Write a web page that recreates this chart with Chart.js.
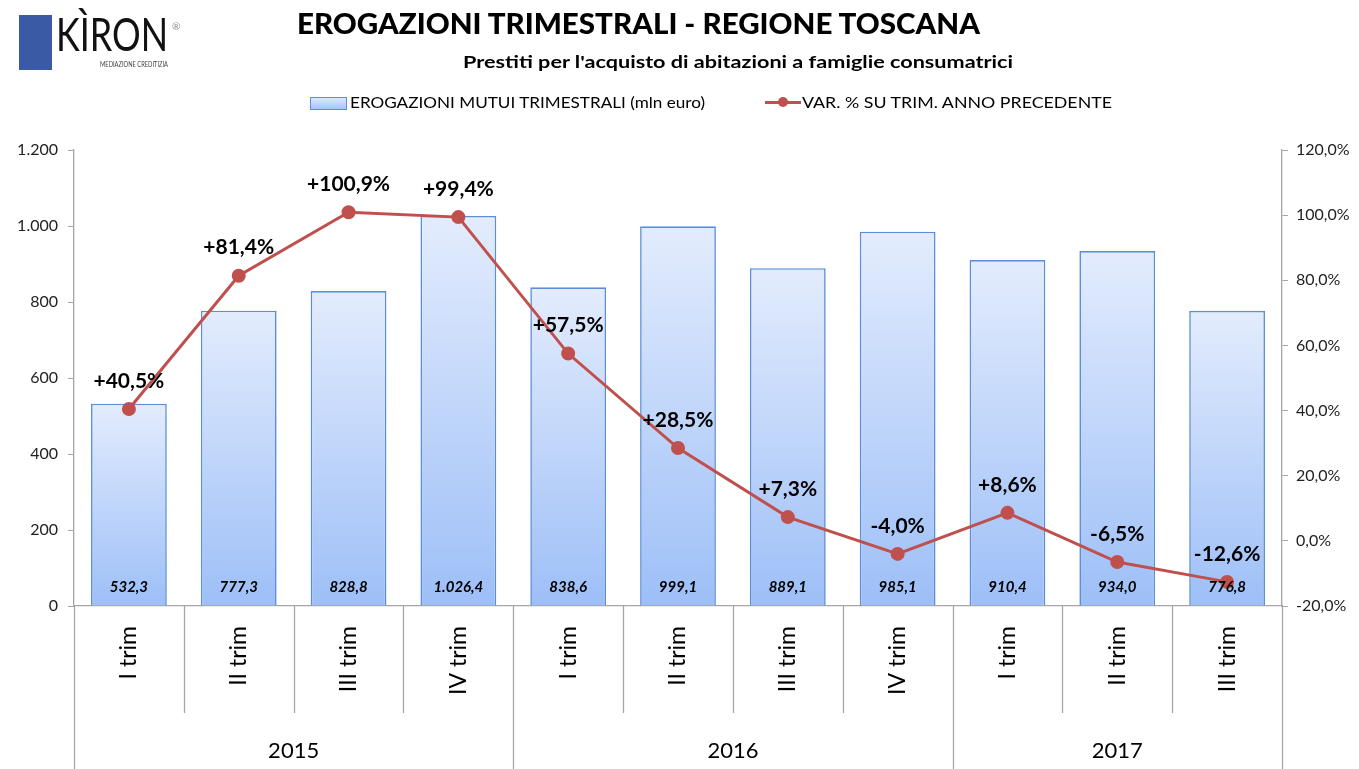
<!DOCTYPE html>
<html>
<head>
<meta charset="utf-8">
<script src="https://cdn.jsdelivr.net/npm/chart.js@4.4.1/dist/chart.umd.min.js"></script>
<style>
body{margin:0;background:#fff;font-family:Lato,"Open Sans",sans-serif;}
#wrap{position:relative;width:1359px;height:769px;overflow:hidden;}
#c{position:absolute;left:0;top:0;}
.fit{position:absolute;white-space:nowrap;transform-origin:0 50%;color:#000;}
#logo-box{position:absolute;left:19px;top:15px;width:33px;height:55px;background:#3a5aa6;}
#logo-reg{position:absolute;left:172px;top:20px;font-size:10px;color:#888;}
.sw{position:absolute;}
</style>
</head>
<body>
<div id="wrap">
<canvas id="c" width="1359" height="769"></canvas>
<div id="logo-box"></div>
<div class="fit" data-w="112" style="left:56px;top:6px;font-size:46px;color:#111;">KÌRON</div>
<div id="logo-reg">®</div>
<div class="fit" data-w="68" style="left:100px;top:60px;font-size:7px;color:#444;">MEDIAZIONE CREDITIZIA</div>
<div class="fit" id="title" data-w="683" style="left:297px;top:6px;font-size:28px;font-weight:900;">EROGAZIONI TRIMESTRALI - REGIONE TOSCANA</div>
<div class="fit" id="sub" data-w="550" style="left:463px;top:51px;font-size:17px;font-weight:bold;">Prestiti per l'acquisto di abitazioni a famiglie consumatrici</div>
<div class="sw" style="left:310px;top:97px;width:35px;height:11px;background:linear-gradient(#dde8fc,#a6c4f8);border:1px solid #5b8fd6;"></div>
<div class="fit" id="lg1" data-w="355" style="left:350px;top:93px;font-size:15px;">EROGAZIONI MUTUI TRIMESTRALI (mln euro)</div>
<div class="sw" style="left:765px;top:101px;width:36px;height:3px;background:#c0504d;"></div>
<div class="sw" style="left:778px;top:97px;width:10px;height:10px;border-radius:50%;background:#c0504d;"></div>
<div class="fit" id="lg2" data-w="310" style="left:802px;top:93px;font-size:15px;">VAR. % SU TRIM. ANNO PRECEDENTE</div>
</div>
<script>
const quarters=['I trim','II trim','III trim','IV trim','I trim','II trim','III trim','IV trim','I trim','II trim','III trim'];
const years=['2015','2016','2017'];
const yearSpans=[4,4,3];
const erogazioni=[532.3,777.3,828.8,1026.4,838.6,999.1,889.1,985.1,910.4,934.0,776.8];
const variazione=[40.5,81.4,100.9,99.4,57.5,28.5,7.3,-4.0,8.6,-6.5,-12.6];
const leftTicks=[0,200,400,600,800,1000,1200];
const rightTicks=[-20,0,20,40,60,80,100,120];

document.querySelectorAll('.fit').forEach(el=>{
  const w=el.getBoundingClientRect().width, t=+el.dataset.w;
  el.style.transform=`scaleX(${t/w})`;
});

const itNum=(v,d)=>v.toLocaleString('it-IT',{minimumFractionDigits:d,maximumFractionDigits:d});
const fmtThousands=v=>itNum(v,0).replace(/\s/g,'.');

function barGradient(ctx){
  const ch=ctx.chart;
  if(!ch.chartArea||ctx.dataIndex===undefined)return '#bcd2fa';
  const y=ch.scales.y, top=y.getPixelForValue(erogazioni[ctx.dataIndex]), bot=y.getPixelForValue(0);
  const g=ch.ctx.createLinearGradient(0,top,0,bot);
  g.addColorStop(0,'#e3ecfd');g.addColorStop(1,'#9dbff7');
  return g;
}

const extras={
  id:'extras',
  afterDraw(chart){
    const c=chart.ctx, a=chart.chartArea;
    const step=(a.right-a.left)/quarters.length;
    c.save();
    c.strokeStyle='#a6a6a6';c.lineWidth=1.3;
    const bounds=[0];yearSpans.reduce((s,n)=>{bounds.push(s+n);return s+n;},0);
    for(let i=0;i<=quarters.length;i++){
      const px=Math.round(a.left+i*step)+0.5;
      const big=bounds.includes(i);
      c.beginPath();c.moveTo(px,a.bottom);c.lineTo(px,big?769:713);c.stroke();
    }
    c.fillStyle='#000';c.font='22px Lato, sans-serif';c.textAlign='center';c.textBaseline='middle';
    years.forEach((yr,i)=>{
      const cx=a.left+(bounds[i]+bounds[i+1])/2*step;
      c.fillText(yr,cx,751);
    });
    // etichette barre
    c.font='italic bold 15px Lato, sans-serif';
    chart.getDatasetMeta(0).data.forEach((el,i)=>{
      c.fillText(itNum(erogazioni[i],1).replace(/\s/g,'.'),el.x,587);
    });
    // etichette linea
    c.font='bold 21px Lato, sans-serif';
    chart.getDatasetMeta(1).data.forEach((el,i)=>{
      const v=variazione[i];
      c.fillText((v>0?'+':'')+itNum(v,1)+'%',el.x,el.y-28);
    });
    c.restore();
  }
};

new Chart(document.getElementById('c'),{
  data:{
    labels:quarters,
    datasets:[
      {type:'bar',label:'EROGAZIONI MUTUI TRIMESTRALI (mln euro)',data:erogazioni,yAxisID:'y',
       backgroundColor:barGradient,borderColor:'#5a8ed6',borderWidth:1.6,
       categoryPercentage:1,barPercentage:0.69,order:2},
      {type:'line',label:'VAR. % SU TRIM. ANNO PRECEDENTE',data:variazione,yAxisID:'y1',
       borderColor:'#c0504d',backgroundColor:'#c0504d',borderWidth:3,pointRadius:5.5,
       pointBackgroundColor:'#c0504d',pointBorderColor:'#c0504d',tension:0,order:1}
    ]
  },
  options:{
    responsive:false,animation:false,
    layout:{padding:{top:150,left:0,right:0,bottom:0}},
    plugins:{legend:{display:false},tooltip:{enabled:false}},
    scales:{
      x:{offset:true,grid:{drawOnChartArea:false,drawTicks:false},
         border:{display:true,color:'#a6a6a6',width:1.3},
         ticks:{minRotation:90,maxRotation:90,padding:20,color:'#000',font:{family:'Lato',size:23}},
         afterFit(s){s.height=163;}},
      y:{position:'left',min:0,max:1200,
         afterBuildTicks(s){s.ticks=leftTicks.map(v=>({value:v}));},
         grid:{drawOnChartArea:false,drawTicks:true,tickLength:6,color:'#a6a6a6'},
         border:{display:true,color:'#a6a6a6',width:1.3},
         ticks:{padding:10,color:'#222',font:{family:'Lato',size:16},callback:v=>fmtThousands(v)},
         afterFit(s){s.width=74;}},
      y1:{position:'right',min:-20,max:120,
         afterBuildTicks(s){s.ticks=rightTicks.map(v=>({value:v}));},
         grid:{drawOnChartArea:false,drawTicks:true,tickLength:6,color:'#a6a6a6'},
         border:{display:true,color:'#a6a6a6',width:1.3},
         ticks:{padding:8,color:'#222',font:{family:'Lato',size:16},callback:v=>itNum(v,1)+'%'},
         afterFit(s){s.width=77;}}
    }
  },
  plugins:[extras]
});
</script>
</body>
</html>
